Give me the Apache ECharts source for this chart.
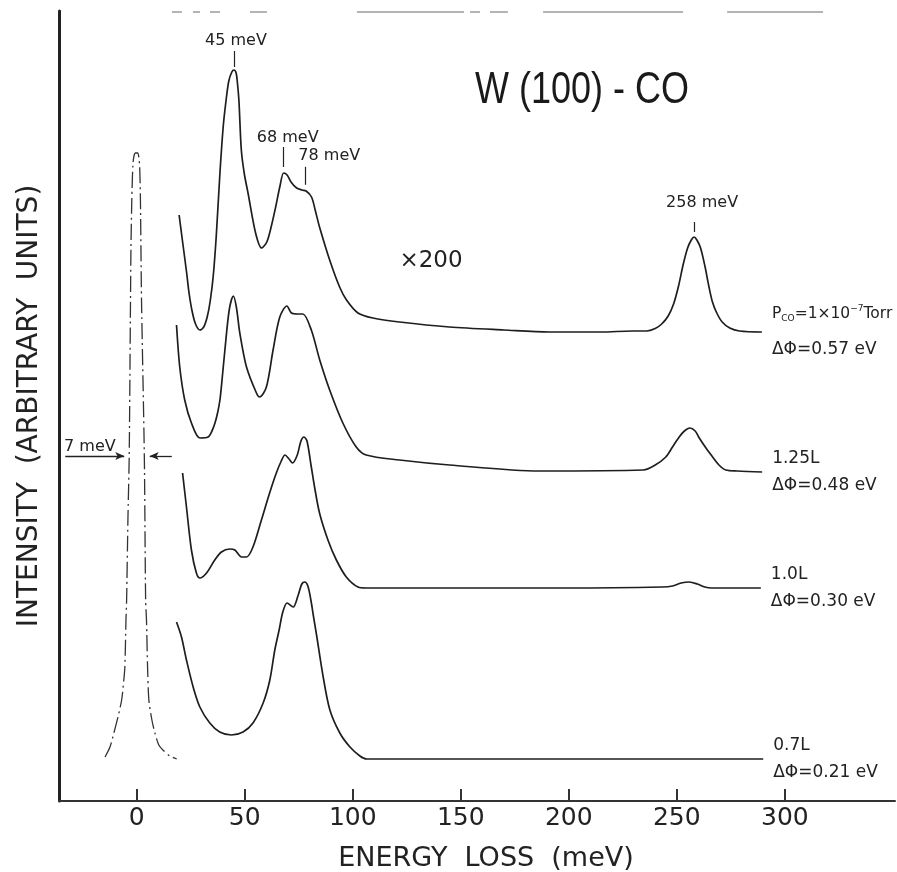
<!DOCTYPE html>
<html>
<head>
<meta charset="utf-8">
<title>W(100) - CO energy loss spectra</title>
<script src="https://cdn.jsdelivr.net/npm/echarts@6/dist/echarts.min.js"></script>
<style>
  html, body { margin: 0; padding: 0; background: #fff; }
  #chart { width: 897px; height: 872px; }
</style>
</head>
<body>
<div id="chart"></div>
<script>
// Energy axis ticks (meV)
const energyTicks = [0, 50, 100, 150, 200, 250, 300];

// Elastic (specular) peak, unscaled: [energy loss meV, intensity]
const elasticPeak = [
  [-14.7, 44], [-12.4, 54], [-10.6, 68], [-8.7, 84], [-7.0, 101], [-6.0, 121], [-5.5, 134],
  [-5.0, 181], [-4.7, 201], [-4.1, 281], [-3.5, 345], [-2.9, 501], [-2.7, 551], [-2.3, 601],
  [-1.8, 636], [-1.3, 645], [-0.6, 648], [0.4, 648], [1.0, 643], [1.4, 631], [1.7, 601],
  [2.2, 501], [3.5, 345], [4.1, 201], [4.5, 181], [5.0, 134], [5.6, 101], [7.0, 81],
  [8.4, 68], [10.2, 56], [12.1, 51], [15.3, 45], [18.5, 42]
];

// Loss spectra (x200), stacked with offsets, from saturation down to lowest exposure
const spectrumSaturated = [
  [19.6, 586], [21.1, 561], [23.1, 528], [24.2, 508], [25.6, 490], [27.2, 477], [29.2, 471],
  [31.0, 474], [32.6, 484], [34.0, 500], [35.4, 525], [36.8, 565], [38.5, 628], [40.0, 674],
  [41.3, 700], [42.6, 720], [44.0, 729], [45.0, 731], [46.0, 728], [46.6, 718], [47.3, 700],
  [48.4, 651], [49.8, 627], [51.5, 608], [55.0, 568], [57.8, 553], [60.2, 559], [62.2, 574],
  [64.3, 594], [66.3, 615], [68.0, 628], [69.6, 626], [71.4, 619], [74.0, 613], [76.5, 611],
  [78.4, 610], [80.9, 604], [82.7, 590], [84.6, 574], [89.3, 541], [93.9, 514], [97.1, 501],
  [102.4, 488], [109.3, 483], [121.6, 479], [144.7, 474], [170, 471], [191, 469], [215, 469],
  [229.3, 470], [236, 470], [240, 472.5], [243, 477], [246, 485], [248.5, 497], [250.8, 515],
  [253, 537], [255, 553], [256.7, 561], [258, 564], [259.3, 561], [261, 553], [263, 535],
  [264.8, 515], [266.5, 499], [268.5, 488], [271, 479], [274.5, 473], [279, 470], [289.4, 469]
];
const spectrum125L = [
  [18.4, 476], [19.9, 434], [22.2, 401], [25.3, 378], [29.2, 363], [33.0, 364], [34.8, 370],
  [36.2, 378], [37.4, 388], [38.5, 401], [39.6, 424], [40.8, 451], [42.8, 491], [44.7, 505],
  [46.1, 494], [47.7, 468], [50.8, 434], [55.4, 408], [56.9, 404], [60.0, 414], [63.1, 451],
  [66.2, 484], [69.5, 495], [71.6, 488], [74.6, 487], [76.9, 487], [80.8, 471], [84.7, 441],
  [89.3, 411], [95.4, 378], [101.6, 354], [106.2, 346], [121.6, 341], [144.8, 336], [186.4, 330],
  [234.5, 331], [240, 336], [244.9, 344], [248, 354], [251.1, 364], [253.5, 370], [256, 373],
  [258.5, 370], [260.4, 363], [263.5, 353], [266.6, 344], [269.5, 336], [272.7, 331], [278, 330],
  [289.5, 329]
];
const spectrum10L = [
  [21.2, 328], [23.0, 294], [25.3, 251], [27.6, 228], [29.2, 223], [32.3, 228], [36.1, 241],
  [39.2, 249], [43.0, 252], [45.4, 251], [48.5, 244], [50.8, 244], [53.8, 254], [57.7, 281],
  [61.5, 308], [64.6, 328], [66.9, 340], [68.6, 346], [70.5, 342], [72.1, 338], [74.3, 346],
  [76.0, 360], [77.4, 364], [78.8, 360], [80.8, 334], [82.3, 314], [84.6, 288], [88.5, 261],
  [92.4, 241], [97.0, 224], [102.4, 214], [106.2, 213], [150, 213], [200, 213], [243.4, 214],
  [248, 215], [252, 218], [255.8, 219], [259.5, 217], [263, 214], [266, 213], [288.9, 213]
];
const spectrum07L = [
  [18.4, 179], [20.7, 164], [23.0, 141], [26.1, 114], [29.2, 94], [33.8, 78], [38.4, 69],
  [43.8, 66], [49.2, 69], [53.8, 78], [58.5, 98], [61.6, 121], [63.9, 151], [65.9, 171],
  [67.6, 189], [69.6, 198], [72.4, 194], [74.6, 205], [76.4, 217], [77.8, 219], [79.2, 215],
  [80.6, 201], [81.7, 186], [83.3, 165], [86.3, 124], [89.4, 91], [94.0, 68], [98.7, 54],
  [103.3, 45], [106.4, 42], [290, 42]
];

// Labelled loss peaks (meV) on the saturated spectrum
const peakEnergies = [45, 68, 78, 258];

// Exposure and work-function change for each spectrum
const exposureLabels = ['', '1.25L', '1.0L', '0.7L'];
const workFunctionShift = ['0.57', '0.48', '0.30', '0.21'];

// Instrument resolution at the elastic peak (meV)
const resolution = 7;
const scaleFactor = 200;

// Faint frame remnants along the top edge: [from, to] in meV
const frameDashes = [
  [16.3, 20.9], [26.0, 29.3], [33.9, 38.5], [52.4, 60.3], [101.9, 151.5],
  [154.3, 158.9], [163.5, 171.8], [188.1, 252.9], [273.3, 317.7]
];

const FONT = '"DejaVu Sans", "Liberation Sans", sans-serif';
const INK = '#1e1e1e';

function valueAt(data, x) {
  for (let i = 1; i < data.length; i++) {
    if (data[i][0] >= x) {
      const a = data[i - 1], b = data[i];
      const t = (x - a[0]) / (b[0] - a[0]);
      return a[1] + t * (b[1] - a[1]);
    }
  }
  return data[data.length - 1][1];
}

// Annotation layout for each labelled peak: gap above curve, tick length, label offset
const tickGap = [3, 6, 6, 5];
const tickLen = [16, 20, 18, 10];
const labelShift = [[2, -10], [4, -9.5], [24, -10.5], [8, -19.5]];

const tickLines = peakEnergies.map((e, i) => {
  const y0 = valueAt(spectrumSaturated, e) + tickGap[i];
  return [{ coord: [e, y0] }, { coord: [e, y0 + tickLen[i]] }];
});
const tickLabels = peakEnergies.map((e, i) => {
  const top = valueAt(spectrumSaturated, e) + tickGap[i] + tickLen[i];
  return {
    coord: [e, top],
    label: { formatter: e + ' meV', offset: labelShift[i] }
  };
});

const richBase = { fontFamily: FONT, fontSize: 17, color: '#222' };
function endLabelFor(index, lineHeight) {
  const rich = {
    t: Object.assign({}, richBase, { lineHeight: lineHeight }),
    p: Object.assign({}, richBase, { fontSize: 15.5, lineHeight: lineHeight }),
    s: Object.assign({}, richBase, { fontSize: 9, lineHeight: lineHeight, padding: [9, 0, 0, 0] }),
    u: Object.assign({}, richBase, { fontSize: 9, lineHeight: lineHeight, padding: [0, 0, 10, 0] })
  };
  const first = index === 0
    ? '{p|P}{s|CO}{p|=1×10}{u|−7}{p|Torr}'
    : '{t|' + exposureLabels[index] + '}';
  return {
    show: true,
    distance: 10,
    formatter: first + '\n{t|ΔΦ=' + workFunctionShift[index] + ' eV}',
    rich: rich
  };
}

function spectrumSeries(name, data, index, lineHeight, extra) {
  return Object.assign({
    type: 'line',
    name: name,
    data: data,
    smooth: 0.3,
    symbol: 'none',
    showSymbol: false,
    silent: true,
    lineStyle: { color: INK, width: 1.7 },
    endLabel: endLabelFor(index, lineHeight)
  }, extra || {});
}

// Frame dashes as one broken line
const frameData = [];
frameDashes.forEach(d => {
  frameData.push([d[0], 789], [d[1], 789], [d[1], null]);
});

const half = resolution / 2;
const arrowY = 345;

const chart = echarts.init(document.getElementById('chart'), null, { renderer: 'canvas' });
chart.setOption({
  animation: false,
  backgroundColor: '#ffffff',
  grid: { left: 59, right: 2, top: 11, bottom: 71, outerBoundsMode: 'none' },
  xAxis: {
    type: 'value',
    min: -36,
    max: 351,
    name: 'ENERGY  LOSS  (meV)',
    nameLocation: 'middle',
    nameGap: 44,
    nameTextStyle: { fontFamily: FONT, fontSize: 27, color: '#222', padding: [0, 0, 0, 18] },
    axisLine: { show: true, onZero: false, lineStyle: { color: '#333', width: 2 } },
    axisTick: { show: true, inside: true, length: 12, customValues: energyTicks, lineStyle: { color: '#333', width: 2 } },
    axisLabel: { customValues: energyTicks, fontFamily: FONT, fontSize: 25, color: '#222', margin: 5 },
    splitLine: { show: false }
  },
  yAxis: {
    type: 'value',
    min: 0,
    max: 790,
    name: 'INTENSITY  (ARBITRARY  UNITS)',
    nameLocation: 'middle',
    nameGap: 15,
    nameRotate: 90,
    nameTextStyle: { fontFamily: FONT, fontSize: 28, color: '#222' },
    axisLine: { show: true, onZero: false, lineStyle: { color: '#222', width: 3 } },
    axisTick: { show: false },
    axisLabel: { show: false },
    splitLine: { show: false }
  },
  graphic: [{
    type: 'text',
    x: 475,
    y: 91,
    scaleX: 0.8,
    silent: true,
    style: {
      text: 'W (100) - CO',
      fontFamily: '"Liberation Sans", "DejaVu Sans", sans-serif',
      fontSize: 45,
      fill: '#1a1a1a',
      align: 'left',
      verticalAlign: 'middle'
    }
  }],
  series: [
    {
      type: 'line',
      name: 'frame',
      data: frameData,
      symbol: 'none',
      silent: true,
      connectNulls: false,
      lineStyle: { color: '#b4b4b4', width: 2 }
    },
    {
      type: 'line',
      name: 'elastic',
      data: elasticPeak,
      smooth: 0.25,
      symbol: 'none',
      silent: true,
      lineStyle: { color: '#333', width: 1.3, type: [16, 4, 2, 4] },
      markLine: {
        silent: true,
        symbol: ['none', 'arrow'],
        symbolSize: [6, 9],
        label: { show: false },
        lineStyle: { color: '#222', width: 1.3, type: 'solid' },
        data: [
          [{ coord: [-33.1, arrowY] }, { coord: [-half - 2.3, arrowY] }],
          [{ coord: [16.2, arrowY] }, { coord: [half + 2.5, arrowY] }]
        ]
      },
      markPoint: {
        silent: true,
        symbol: 'circle',
        symbolSize: 0,
        itemStyle: { color: 'transparent' },
        label: { show: true, position: 'inside', fontFamily: FONT, fontSize: 16, color: '#222' },
        data: [
          { coord: [-21.7, arrowY], label: { formatter: resolution + ' meV', offset: [0, -9] } },
          { coord: [136.2, 540], label: { formatter: '×' + scaleFactor, fontSize: 23, offset: [0, 0] } }
        ]
      }
    },
    spectrumSeries('saturation', spectrumSaturated, 0, 36, {
      markLine: {
        silent: true,
        symbol: 'none',
        label: { show: false },
        lineStyle: { color: '#222', width: 1.2, type: 'solid' },
        data: tickLines
      },
      markPoint: {
        silent: true,
        symbol: 'circle',
        symbolSize: 0,
        itemStyle: { color: 'transparent' },
        label: { show: true, position: 'inside', fontFamily: FONT, fontSize: 16, color: '#222' },
        data: tickLabels
      }
    }),
    spectrumSeries('1.25 L', spectrum125L, 1, 27),
    spectrumSeries('1.0 L', spectrum10L, 2, 27),
    spectrumSeries('0.7 L', spectrum07L, 3, 27)
  ]
});
</script>
</body>
</html>
